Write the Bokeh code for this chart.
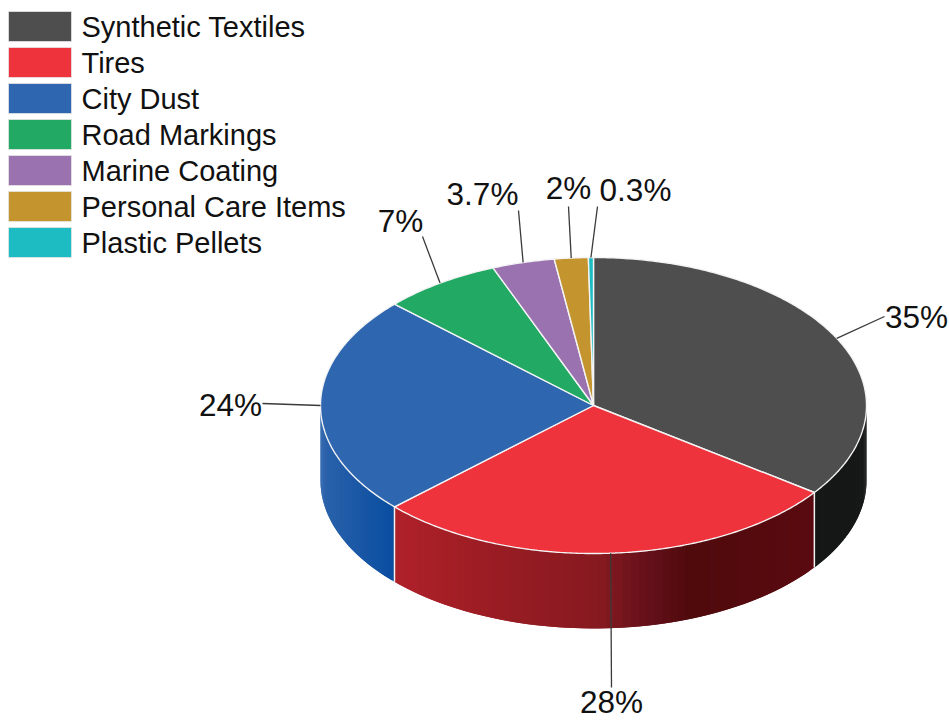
import numpy as np
from bokeh.plotting import figure
from bokeh.models import Range1d
from bokeh.core.properties import value
from bokeh.embed import file_html
from bokeh.resources import INLINE

categories = ["Synthetic Textiles", "Tires", "City Dust", "Road Markings",
              "Marine Coating", "Personal Care Items", "Plastic Pellets"]
shares = [35, 28, 24, 7, 3.7, 2, 0.3]
labels = ["35%", "28%", "24%", "7%", "3.7%", "2%", "0.3%"]
colors = ["#4d4e4d", "#ee333c", "#2f66b0", "#22a964", "#9b72b0", "#c4952e", "#1dbcc2"]

# layout (page pixels)
CX, CY, RX, RY, DEPTH = 594, 406, 273, 148, 75
leader_ends = [(885, 317), (612, 688), (263, 404), (423, 237), (519, 211), (569, 207), (598, 207)]
label_pos = [(917, 317), (612, 702), (231, 405), (401, 221), (483, 194), (569, 188), (636, 190)]
side_stops = {
    0: [(594, "#161817"), (867, "#161817")],
    1: [(394, "#b0212a"), (500, "#991c23"), (600, "#861a20"), (650, "#64101a"),
        (690, "#4f0a0c"), (815, "#5a0a10")],
    2: [(321, "#2c63ab"), (394, "#0a4da0")],
}


def rgb(h):
    return np.array([int(h[i:i + 2], 16) for i in (1, 3, 5)], dtype=float)


def shade(stops, x):
    xs = [s[0] for s in stops]
    cs = np.array([rgb(s[1]) for s in stops])
    c = [np.interp(x, xs, cs[:, i]) for i in range(3)]
    return "#%02x%02x%02x" % tuple(int(round(v)) for v in c)


def px(a):
    return CX + RX * np.sin(a)


def py(a):
    return CY - RY * np.cos(a)


p = figure(width=949, height=720, output_backend="svg", toolbar_location=None,
           x_range=Range1d(1, 950), y_range=Range1d(721, 1),
           min_border=0, outline_line_color=None)
p.axis.visible = False
p.grid.visible = False

fractions = np.array(shares, dtype=float) / sum(shares)
edges = np.concatenate([[0], np.cumsum(fractions)]) * 2 * np.pi

# side walls: overlapping strips painted one over another hide the seams
for i, stops in side_stops.items():
    a0, a1 = max(edges[i], np.pi / 2), min(edges[i + 1], 3 * np.pi / 2)
    aa = np.linspace(a0, a1, 60)
    for u, v in zip(aa[:-1], aa[1:]):
        w = min(v + (v - u), a1)
        c = shade(stops, px((u + v) / 2))
        p.patch([px(u), px(w), px(w), px(u)], [py(u), py(w), py(w) + DEPTH, py(u) + DEPTH],
                fill_color=c, line_color=None)

# vertical white seams on the wall
for e in edges[1:3]:
    p.line([px(e), px(e)], [py(e), py(e) + DEPTH], line_color="#f2f2f2", line_width=1.5)

# top face
for i in range(len(shares)):
    aa = np.linspace(edges[i], edges[i + 1], max(4, int(shares[i] * 6)))
    xs = np.concatenate([[CX], px(aa)])
    ys = np.concatenate([[CY], py(aa)])
    p.patch(xs, ys, fill_color=colors[i], line_color="#f4f4f4", line_width=1.4)

# leaders and value labels
for i, lab in enumerate(labels):
    mid = (edges[i] + edges[i + 1]) / 2
    ex, ey = leader_ends[i]
    p.line([px(mid), ex], [py(mid), ey], line_color="#3a3a3a", line_width=1.3)
    lx, ly = label_pos[i]
    p.text([lx], [ly], text=[lab], text_font=value("Liberation Sans"), text_font_size="31.5px",
           text_align="center", text_baseline="middle", text_color="#111111")

# legend
for i, name in enumerate(categories):
    p.quad(left=[9], right=[72], top=[12 + 36 * i], bottom=[42 + 36 * i],
           fill_color=colors[i], line_color="#e4e4e4", line_width=0.8)
    p.text([82], [27.5 + 36 * i], text=[name], text_font=value("Liberation Sans"),
           text_font_size="29px", text_align="left", text_baseline="middle", text_color="#111111")

open("out.html", "w").write(file_html(p, INLINE))
